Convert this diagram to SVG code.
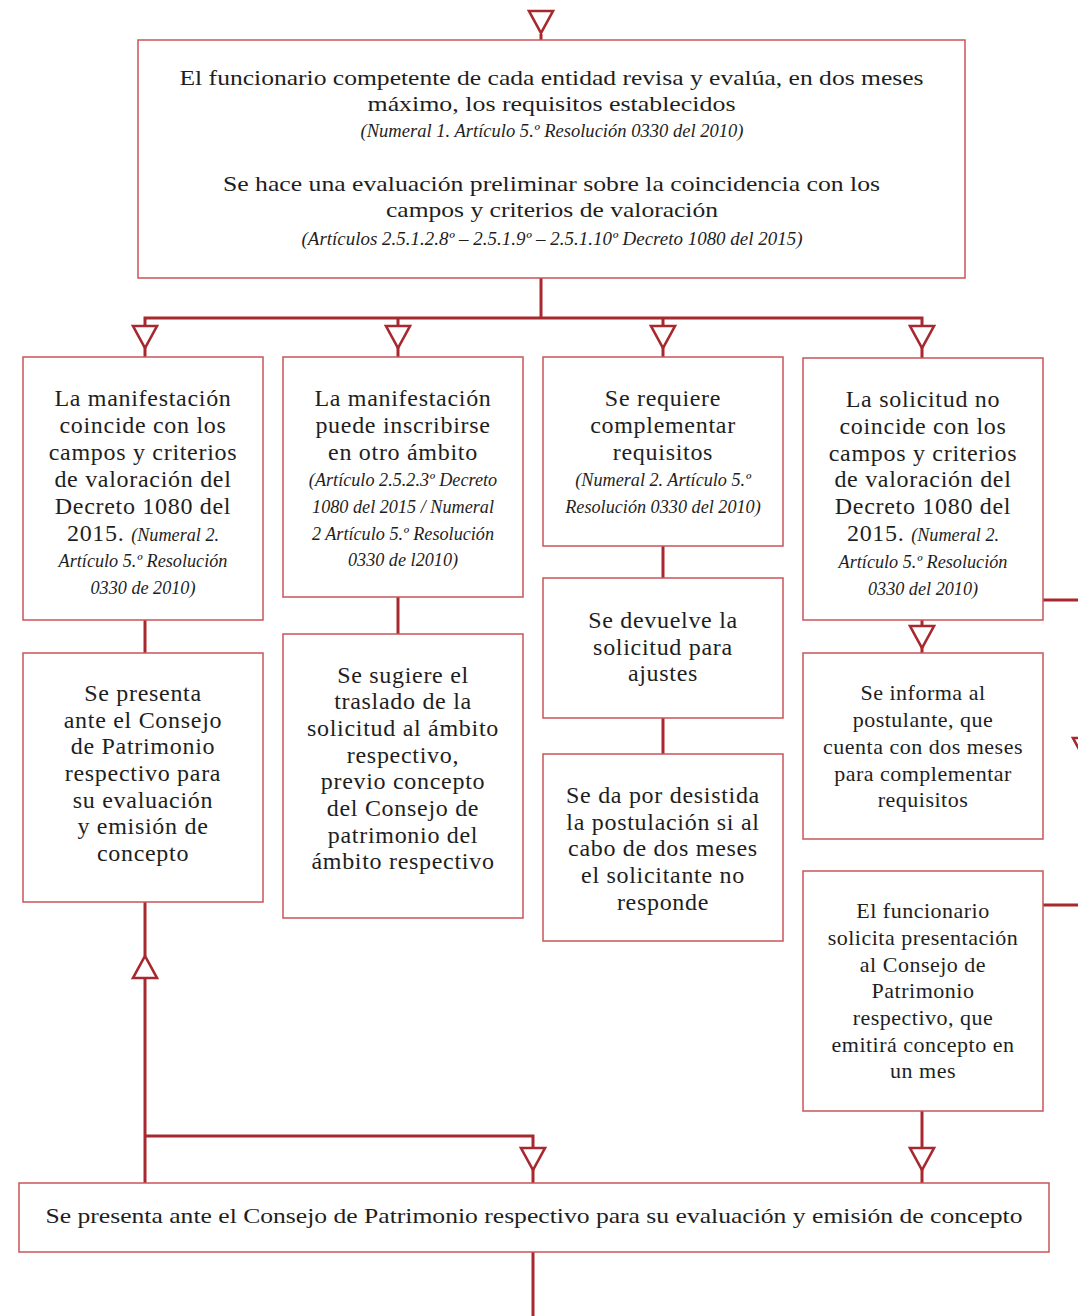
<svg xmlns="http://www.w3.org/2000/svg" xmlns:xlink="http://www.w3.org/1999/xlink" width="1078" height="1316" viewBox="0 0 1078 1316">
<style>
.box{fill:#fff;stroke:#c9545a;stroke-width:1.5}
.ln{fill:none;stroke:#a8282f;stroke-width:3}
.tri{fill:#fff;stroke:#a8282f;stroke-width:2.6;stroke-linejoin:miter}
.t{font-family:"Liberation Serif","DejaVu Serif",serif;font-size:24px;letter-spacing:0.7px;fill:#1e1e1e;text-anchor:middle}
.s{font-size:22px;letter-spacing:0.5px}
.w{font-size:22px;letter-spacing:0}
.i{font-family:"Liberation Serif","DejaVu Serif",serif;font-style:italic;font-size:18.2px;letter-spacing:0;fill:#1e1e1e;text-anchor:middle}
</style>
<defs>
<path id="down" d="M-12,0 L12,0 L0,22 Z"/>
<path id="up" d="M-12,0 L12,0 L0,-22 Z"/>
</defs>
<rect width="1078" height="1316" fill="#fff"/>
<g id="connectors">
<line class="ln" x1="541" y1="34" x2="541" y2="40"/>
<line class="ln" x1="541" y1="278" x2="541" y2="318"/>
<polyline class="ln" points="145,326 145,318 922,318 922,326"/>
<line class="ln" x1="398" y1="318" x2="398" y2="326"/>
<line class="ln" x1="663" y1="318" x2="663" y2="326"/>
<line class="ln" x1="145" y1="346" x2="145" y2="357"/>
<line class="ln" x1="398" y1="346" x2="398" y2="357"/>
<line class="ln" x1="663" y1="346" x2="663" y2="357"/>
<line class="ln" x1="922" y1="346" x2="922" y2="358"/>
<line class="ln" x1="145" y1="620" x2="145" y2="653"/>
<line class="ln" x1="398" y1="597" x2="398" y2="634"/>
<line class="ln" x1="663" y1="546" x2="663" y2="578"/>
<line class="ln" x1="663" y1="718" x2="663" y2="754"/>
<line class="ln" x1="922" y1="620" x2="922" y2="626"/>
<line class="ln" x1="922" y1="646" x2="922" y2="653"/>
<line class="ln" x1="1043" y1="600" x2="1078" y2="600"/>
<line class="ln" x1="1043" y1="905" x2="1078" y2="905"/>
<line class="ln" x1="922" y1="1111" x2="922" y2="1148"/>
<line class="ln" x1="922" y1="1168" x2="922" y2="1183"/>
<line class="ln" x1="145" y1="902" x2="145" y2="956"/>
<line class="ln" x1="145" y1="978" x2="145" y2="1183"/>
<polyline class="ln" points="145,1136 533,1136 533,1148"/>
<line class="ln" x1="533" y1="1168" x2="533" y2="1183"/>
<line class="ln" x1="533" y1="1252" x2="533" y2="1316"/>
<use href="#down" class="tri" x="541" y="11"/>
<use href="#down" class="tri" x="145" y="326"/>
<use href="#down" class="tri" x="398" y="326"/>
<use href="#down" class="tri" x="663" y="326"/>
<use href="#down" class="tri" x="922" y="326"/>
<use href="#down" class="tri" x="922" y="626"/>
<use href="#down" class="tri" x="1085" y="738"/>
<use href="#down" class="tri" x="922" y="1148"/>
<use href="#down" class="tri" x="533" y="1148"/>
<use href="#up" class="tri" x="145" y="978"/>
</g>
<g id="n-top">
<rect class="box" x="138" y="40" width="827" height="238"/>
<text class="t w" x="551.5" y="85" textLength="744" lengthAdjust="spacingAndGlyphs">El funcionario competente de cada entidad revisa y evalúa, en dos meses</text>
<text class="t w" x="551.5" y="111" textLength="368" lengthAdjust="spacingAndGlyphs">máximo, los requisitos establecidos</text>
<text class="i" x="552" y="137" textLength="383" lengthAdjust="spacingAndGlyphs">(Numeral 1. Artículo 5.º Resolución 0330 del 2010)</text>
<text class="t w" x="551.5" y="191" textLength="657" lengthAdjust="spacingAndGlyphs">Se hace una evaluación preliminar sobre la coincidencia con los</text>
<text class="t w" x="552" y="217" textLength="332" lengthAdjust="spacingAndGlyphs">campos y criterios de valoración</text>
<text class="i" x="552" y="245" textLength="501" lengthAdjust="spacingAndGlyphs">(Artículos 2.5.1.2.8º – 2.5.1.9º – 2.5.1.10º Decreto 1080 del 2015)</text>
</g>
<g id="n-c1a">
<rect class="box" x="23" y="357" width="240" height="263"/>
<text class="t" x="143" y="406">La manifestación</text>
<text class="t" x="143" y="433">coincide con los</text>
<text class="t" x="143" y="460">campos y criterios</text>
<text class="t" x="143" y="487">de valoración del</text>
<text class="t" x="143" y="514">Decreto 1080 del</text>
<text class="t" x="143" y="541">2015. <tspan font-style="italic" font-size="18.2" letter-spacing="0">(Numeral 2.</tspan></text>
<text class="i" x="143" y="567">Artículo 5.º Resolución</text>
<text class="i" x="143" y="594">0330 de 2010)</text>
</g>
<g id="n-c2a">
<rect class="box" x="283" y="357" width="240" height="240"/>
<text class="t" x="403" y="406">La manifestación</text>
<text class="t" x="403" y="433">puede inscribirse</text>
<text class="t" x="403" y="460">en otro ámbito</text>
<text class="i" x="403" y="486">(Artículo 2.5.2.3º Decreto</text>
<text class="i" x="403" y="513">1080 del 2015 / Numeral</text>
<text class="i" x="403" y="540">2 Artículo 5.º Resolución</text>
<text class="i" x="403" y="566">0330 de l2010)</text>
</g>
<g id="n-c3a">
<rect class="box" x="543" y="357" width="240" height="189"/>
<text class="t" x="663" y="406">Se requiere</text>
<text class="t" x="663" y="433">complementar</text>
<text class="t" x="663" y="460">requisitos</text>
<text class="i" x="663" y="486">(Numeral 2. Artículo 5.º</text>
<text class="i" x="663" y="513">Resolución 0330 del 2010)</text>
</g>
<g id="n-c4a">
<rect class="box" x="803" y="358" width="240" height="262"/>
<text class="t" x="923" y="407">La solicitud no</text>
<text class="t" x="923" y="434">coincide con los</text>
<text class="t" x="923" y="461">campos y criterios</text>
<text class="t" x="923" y="487">de valoración del</text>
<text class="t" x="923" y="514">Decreto 1080 del</text>
<text class="t" x="923" y="541">2015. <tspan font-style="italic" font-size="18.2" letter-spacing="0">(Numeral 2.</tspan></text>
<text class="i" x="923" y="568">Artículo 5.º Resolución</text>
<text class="i" x="923" y="595">0330 del 2010)</text>
</g>
<g id="n-c1b">
<rect class="box" x="23" y="653" width="240" height="249"/>
<text class="t" x="143" y="701">Se presenta</text>
<text class="t" x="143" y="728">ante el Consejo</text>
<text class="t" x="143" y="754">de Patrimonio</text>
<text class="t" x="143" y="781">respectivo para</text>
<text class="t" x="143" y="808">su evaluación</text>
<text class="t" x="143" y="834">y emisión de</text>
<text class="t" x="143" y="861">concepto</text>
</g>
<g id="n-c2b">
<rect class="box" x="283" y="634" width="240" height="284"/>
<text class="t" x="403" y="683">Se sugiere el</text>
<text class="t" x="403" y="709">traslado de la</text>
<text class="t" x="403" y="736">solicitud al ámbito</text>
<text class="t" x="403" y="763">respectivo,</text>
<text class="t" x="403" y="789">previo concepto</text>
<text class="t" x="403" y="816">del Consejo de</text>
<text class="t" x="403" y="843">patrimonio del</text>
<text class="t" x="403" y="869">ámbito respectivo</text>
</g>
<g id="n-c3b">
<rect class="box" x="543" y="578" width="240" height="140"/>
<text class="t" x="663" y="628">Se devuelve la</text>
<text class="t" x="663" y="655">solicitud para</text>
<text class="t" x="663" y="681">ajustes</text>
</g>
<g id="n-c3c">
<rect class="box" x="543" y="754" width="240" height="187"/>
<text class="t" x="663" y="803">Se da por desistida</text>
<text class="t" x="663" y="830">la postulación si al</text>
<text class="t" x="663" y="856">cabo de dos meses</text>
<text class="t" x="663" y="883">el solicitante no</text>
<text class="t" x="663" y="910">responde</text>
</g>
<g id="n-c4b">
<rect class="box" x="803" y="653" width="240" height="186"/>
<text class="t s" x="923" y="700">Se informa al</text>
<text class="t s" x="923" y="727">postulante, que</text>
<text class="t s" x="923" y="754">cuenta con dos meses</text>
<text class="t s" x="923" y="781">para complementar</text>
<text class="t s" x="923" y="807">requisitos</text>
</g>
<g id="n-c4c">
<rect class="box" x="803" y="871" width="240" height="240"/>
<text class="t s" x="923" y="918">El funcionario</text>
<text class="t s" x="923" y="945">solicita presentación</text>
<text class="t s" x="923" y="972">al Consejo de</text>
<text class="t s" x="923" y="998">Patrimonio</text>
<text class="t s" x="923" y="1025">respectivo, que</text>
<text class="t s" x="923" y="1052">emitirá concepto en</text>
<text class="t s" x="923" y="1078">un mes</text>
</g>
<g id="n-bottom">
<rect class="box" x="19" y="1183" width="1030" height="69"/>
<text class="t w" x="534" y="1223" textLength="977" lengthAdjust="spacingAndGlyphs">Se presenta ante el Consejo de Patrimonio respectivo para su evaluación y emisión de concepto</text>
</g>
</svg>
